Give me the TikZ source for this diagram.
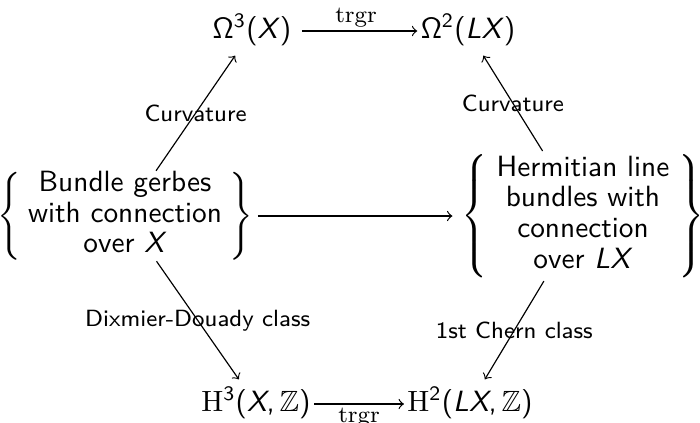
\documentclass[tikz,border=0pt]{standalone}
\usepackage{amssymb}
\begin{document}
\begin{tikzpicture}[x=0.3413pt,y=-0.3413pt,
  obj/.style={inner xsep=1pt, inner ysep=3.2pt, text height=7.5pt, text depth=2.5pt, font=\sffamily},
  big/.style={inner xsep=1.5pt, font=\sffamily},
  lab/.style={font=\sffamily\footnotesize, inner sep=0pt, anchor=center},
  tlab/.style={font=\rmfamily\footnotesize, inner sep=0pt, anchor=center},
  arr/.style={->, line width=0.4pt}]
\useasboundingbox (0,0) rectangle (700,422);
\node[obj] (A) at (252,31) {$\mathsf{\Omega}^{\mathsf{3}}$(\textit{X})};
\node[obj] (B) at (468,31) {$\mathsf{\Omega}^{\mathsf{2}}$(\textit{LX})};
\node[obj] (C) at (256,404) {$\mathrm{H}^{\mathsf{3}}$(\textit{X},$\,\mathbb{Z}$)};
\node[obj] (D) at (470,404) {$\mathrm{H}^{\mathsf{2}}$(\textit{LX},$\,\mathbb{Z}$)};
\node[big, inner ysep=-0.5pt] (L) at (125,216) {$\left\{\mbox{\renewcommand\arraystretch{0.875}\begin{tabular}{@{\hspace{2.5pt}}c@{\hspace{2.5pt}}}Bundle gerbes\\with connection\\over \textit{X}\end{tabular}}\right\}$};
\node[big, inner xsep=3pt, inner ysep=1pt] (R) at (583,216) {$\left\{\mbox{\renewcommand\arraystretch{0.875}\begin{tabular}{@{\hspace{3pt}}c@{\hspace{3pt}}}Hermitian line\\bundles with\\connection\\over \textit{LX}\end{tabular}}\right\}$};
\draw[arr, shorten <=2.4pt] (A) -- node[tlab, yshift=4.6pt]{trgr} (B);
\draw[arr] (C) -- node[tlab, yshift=-4.8pt]{trgr} (D);
\draw[arr] (L) -- (R);
\draw[arr] (L) -- node[lab]{Curvature} (A);
\draw[arr] (R) -- node[lab]{Curvature} (B);
\draw[arr] (L) -- node[lab]{Dixmier-Douady class} (C);
\draw[arr] (R) -- node[lab]{1st Chern class} (D);
\end{tikzpicture}
\end{document}
